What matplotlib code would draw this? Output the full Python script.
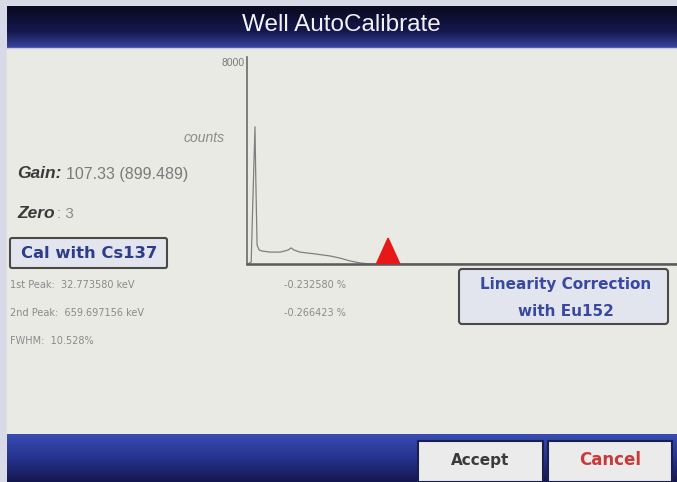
import numpy as np
import matplotlib
matplotlib.use("Agg")
import matplotlib.pyplot as plt
from matplotlib.patches import FancyBboxPatch, Rectangle

plt.rcParams['font.family'] = ['Liberation Sans', 'DejaVu Sans']

# spectrum (channel, counts)
channels = [0, 2, 10, 14, 19, 21, 24, 29, 36, 55, 79, 98, 105, 112, 126, 162, 198, 221, 245, 269, 293, 1024]
counts = [0, 0, 80, 2470, 5300, 3250, 730, 540, 500, 460, 460, 540, 620, 540, 460, 390, 310, 230, 120, 40, 0, 0]
y_max = 8000
n_channels = 1024
marker_channel = 336

title = "Well AutoCalibrate"
gain_value = "107.33 (899.489)"
zero_value = ": 3"
peak_lines = ["1st Peak:  32.773580 keV", "2nd Peak:  659.697156 keV", "FWHM:  10.528%"]
peak_errors = ["-0.232580 %", "-0.266423 %"]

W, H = 677, 482
fig = plt.figure(figsize=(W / 100, H / 100), dpi=100)

# background drawn in pixel coordinates
bg = fig.add_axes([0, 0, 1, 1])
bg.axis("off")

bg.add_patch(Rectangle((0, 0), W, H, color="#d9dae8", zorder=0))
bg.add_patch(Rectangle((7, 6), W - 7, H - 6, color="#eaeae5", zorder=1))

# title bar gradient
grad = np.linspace(0, 1, 64)
top_cols = np.array([[0.04, 0.04, 0.12], [0.08, 0.09, 0.30], [0.22, 0.27, 0.62]])
img_top = np.stack([np.interp(grad, [0, 0.6, 1], top_cols[:, i]) for i in range(3)], axis=-1)
img_top = np.repeat(img_top[:, None, :], 2, axis=1)
bg.imshow(img_top, extent=(7, W, 48, 6), aspect="auto", zorder=2, interpolation="bilinear")
bg.plot([7, W], [48, 48], color="#c8cce0", lw=1, zorder=3)

# bottom bar gradient
bot_cols = np.array([[0.22, 0.30, 0.70], [0.15, 0.20, 0.56], [0.08, 0.09, 0.30]])
img_bot = np.stack([np.interp(grad, [0, 0.5, 1], bot_cols[:, i]) for i in range(3)], axis=-1)
img_bot = np.repeat(img_bot[:, None, :], 2, axis=1)
bg.imshow(img_bot, extent=(7, W, H, 434), aspect="auto", zorder=2, interpolation="bilinear")
bg.set_xlim(0, W)
bg.set_ylim(H, 0)

bg.text(341, 25, title, color="#f2f2f6", fontsize=17.5, ha="center", va="center", zorder=5)

# left info
bg.text(17, 173, "Gain:", fontsize=12.5, fontweight="bold", fontstyle="italic", color="#3a3a3a",
        va="center", zorder=5)
bg.text(66, 174, gain_value, fontsize=11.5, color="#7a7a7a", va="center", zorder=5)
bg.text(17, 213, "Zero", fontsize=12.5, fontweight="bold", fontstyle="italic", color="#3a3a3a",
        va="center", zorder=5)
bg.text(57, 214, zero_value, fontsize=11, color="#8a8a8a", va="center", zorder=5)

btn_font = dict(family="DejaVu Sans", fontweight="bold", ha="center", va="center", zorder=5)
bg.add_patch(FancyBboxPatch((10, 238), 157, 30, boxstyle="round,pad=0,rounding_size=2",
                            fc="#e3e5ee", ec="#4a4a4a", lw=1.5, zorder=4))
bg.text(89, 253, "Cal with Cs137", fontsize=11.8, color="#2e3d8a", **btn_font)

for i, line in enumerate(peak_lines):
    bg.text(10, 285 + 28 * i, line, family="DejaVu Sans", fontsize=7, color="#8a8a8a",
            va="center", zorder=5)
for i, line in enumerate(peak_errors):
    bg.text(284, 285 + 28 * i, line, family="DejaVu Sans", fontsize=7, color="#8a8a8a",
            va="center", zorder=5)

bg.add_patch(FancyBboxPatch((459, 269), 209, 55, boxstyle="round,pad=0,rounding_size=3",
                            fc="#e3e5ee", ec="#4a4a4a", lw=1.5, zorder=4))
bg.text(566, 285, "Linearity Correction", fontsize=11, color="#3a48a0", **btn_font)
bg.text(566, 311, "with Eu152", fontsize=11, color="#3a48a0", **btn_font)

# bottom buttons
bg.add_patch(Rectangle((418, 441), 125, 41, fc="#ebebeb", ec="#1a1f50", lw=1.5, zorder=4))
bg.text(480, 460, "Accept", fontsize=11, color="#3a3a3a", **btn_font)
bg.add_patch(Rectangle((548, 441), 124, 41, fc="#ebebeb", ec="#1a1f50", lw=1.5, zorder=4))
bg.text(610, 460, "Cancel", fontsize=12, color="#c83a3a", **btn_font)

# spectrum axes
left, top, bottom, right = 247, 57, 264, 677
ax = fig.add_axes([left / W, (H - bottom) / H, (right - left) / W, (bottom - top) / H])
ax.set_facecolor("none")
ax.plot(channels, counts, color="#7f7f7f", lw=0.9)
half_w = 28
tri_h = 1000
ax.fill([marker_channel - half_w, marker_channel, marker_channel + half_w],
        [0, tri_h, 0], color="#e81818", zorder=3)
ax.set_xlim(0, n_channels)
ax.set_ylim(0, y_max)
ax.spines["top"].set_visible(False)
ax.spines["right"].set_visible(False)
ax.spines["left"].set_color("#6a6a6a")
ax.spines["bottom"].set_color("#5a5a5a")
ax.spines["left"].set_linewidth(1.2)
ax.spines["bottom"].set_linewidth(1.8)
ax.set_xticks([])
ax.set_yticks([])
ax.text(-0.006, 0.995, str(y_max), transform=ax.transAxes, ha="right", va="top",
        fontsize=7.5, color="#7a7a7a")
ax.set_ylabel("counts", rotation=0, fontsize=10, fontstyle="italic", color="#8a8a8a")
ax.yaxis.set_label_coords(-0.1, 0.575)

fig.savefig("out.png", dpi=100)
